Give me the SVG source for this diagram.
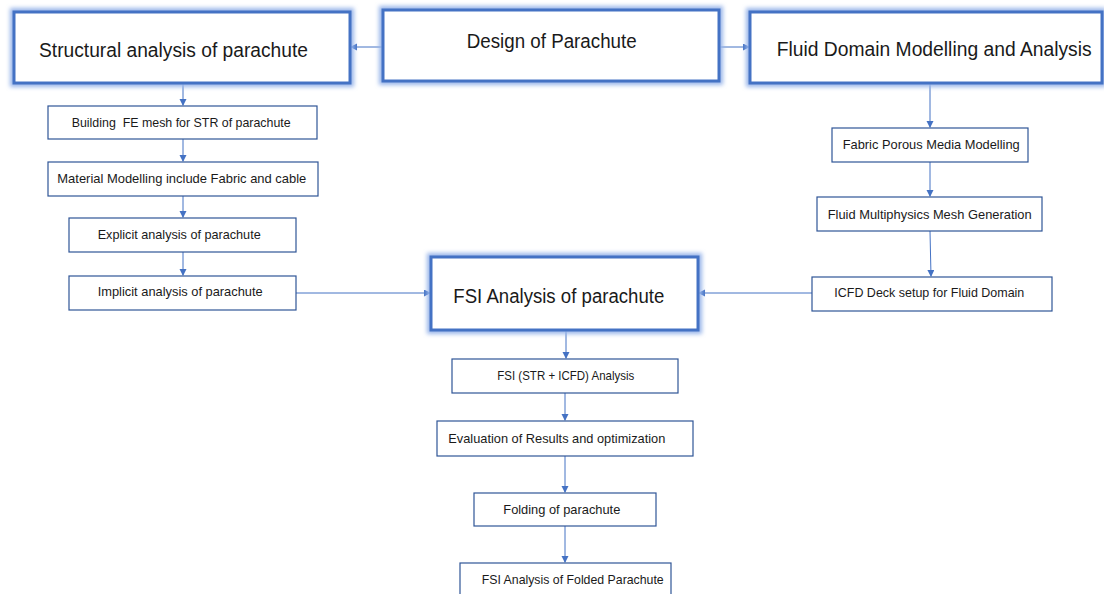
<svg xmlns="http://www.w3.org/2000/svg" width="1104" height="594" viewBox="0 0 1104 594">
<style>
.big rect.b{fill:#fff;stroke:#4472c4;stroke-width:3}
.big rect.g{fill:none;stroke:#9ab6ea;stroke-width:8;filter:url(#blur)}
.sm rect{fill:#fff;stroke:#2f5597;stroke-width:1.2}
text{font-family:"Liberation Sans",Arial,sans-serif;fill:#1a1a1a;white-space:pre}
.bt{font-size:19.5px}
.st{font-size:13px}
.c path{fill:none;stroke:#4472c4;stroke-width:1;marker-end:url(#ah)}
</style>
<defs>
<filter id="blur" x="-10%" y="-30%" width="120%" height="160%"><feGaussianBlur stdDeviation="2"/></filter>
<marker id="ah" markerUnits="userSpaceOnUse" markerWidth="8" markerHeight="8" refX="6" refY="3.5" orient="auto"><path d="M0,0 L7,3.5 L0,7 z" fill="#4472c4"/></marker>
</defs>
<rect width="1104" height="594" fill="#fff"/>
<g class="c">
<path d="M383,47 L351,47"/>
<path d="M719,47 L749,47"/>
<path d="M183,83 L183,105"/>
<path d="M183,139 L183,161"/>
<path d="M183,196 L183,217"/>
<path d="M183,252 L183,275"/>
<path d="M296,293 L430,293"/>
<path d="M930,83 L930,127"/>
<path d="M930,162 L930,196"/>
<path d="M930,231 L931,276"/>
<path d="M812,293 L699,293"/>
<path d="M566,330 L566,358"/>
<path d="M565,393 L565,420"/>
<path d="M565,456 L565,492"/>
<path d="M565,526 L565,562"/>
</g>
<g id="structural" class="big"><rect class="g" x="14" y="12" width="336" height="71"/><rect class="b" x="14" y="12" width="336" height="71"/><text class="bt" x="39" y="57" textLength="269" lengthAdjust="spacingAndGlyphs">Structural analysis of parachute</text></g>
<g id="design" class="big"><rect class="g" x="383" y="10" width="336" height="71"/><rect class="b" x="383" y="10" width="336" height="71"/><text class="bt" x="466.7" y="48" textLength="170" lengthAdjust="spacingAndGlyphs">Design of Parachute</text></g>
<g id="fluid" class="big"><rect class="g" x="750" y="12" width="352" height="71"/><rect class="b" x="750" y="12" width="352" height="71"/><text class="bt" x="776.7" y="56" textLength="315" lengthAdjust="spacingAndGlyphs">Fluid Domain Modelling and Analysis</text></g>
<g id="fsi" class="big"><rect class="g" x="431" y="257" width="267" height="73"/><rect class="b" x="431" y="257" width="267" height="73"/><text class="bt" x="453.3" y="303" textLength="211" lengthAdjust="spacingAndGlyphs">FSI Analysis of parachute</text></g>
<g id="building" class="sm"><rect x="48" y="106" width="269" height="33"/><text class="st" x="71.7" y="127" textLength="219" lengthAdjust="spacingAndGlyphs">Building  FE mesh for STR of parachute</text></g>
<g id="material" class="sm"><rect x="48" y="162" width="270" height="34"/><text class="st" x="57.3" y="183" textLength="249" lengthAdjust="spacingAndGlyphs">Material Modelling include Fabric and cable</text></g>
<g id="explicit" class="sm"><rect x="69" y="218" width="227" height="34"/><text class="st" x="97.7" y="239" textLength="163" lengthAdjust="spacingAndGlyphs">Explicit analysis of parachute</text></g>
<g id="implicit" class="sm"><rect x="69" y="276" width="227" height="34"/><text class="st" x="97.7" y="296" textLength="165" lengthAdjust="spacingAndGlyphs">Implicit analysis of parachute</text></g>
<g id="fabric" class="sm"><rect x="832" y="128" width="196" height="34"/><text class="st" x="842.7" y="148.5" textLength="177" lengthAdjust="spacingAndGlyphs">Fabric Porous Media Modelling</text></g>
<g id="multiphysics" class="sm"><rect x="817" y="197" width="225" height="34"/><text class="st" x="827.7" y="218.5" textLength="204" lengthAdjust="spacingAndGlyphs">Fluid Multiphysics Mesh Generation</text></g>
<g id="icfd" class="sm"><rect x="812" y="277" width="240" height="34"/><text class="st" x="834.3" y="297" textLength="190" lengthAdjust="spacingAndGlyphs">ICFD Deck setup for Fluid Domain</text></g>
<g id="fsi-str" class="sm"><rect x="452" y="359" width="226" height="34"/><text class="st" x="497.3" y="380" textLength="137" lengthAdjust="spacingAndGlyphs">FSI (STR + ICFD) Analysis</text></g>
<g id="evaluation" class="sm"><rect x="437" y="421" width="256" height="35"/><text class="st" x="448.3" y="442.5" textLength="217" lengthAdjust="spacingAndGlyphs">Evaluation of Results and optimization</text></g>
<g id="folding" class="sm"><rect x="474" y="493" width="182" height="33"/><text class="st" x="503.3" y="513.5" textLength="117" lengthAdjust="spacingAndGlyphs">Folding of parachute</text></g>
<g id="folded" class="sm"><rect x="460" y="563" width="211" height="40"/><text class="st" x="481.7" y="583.5" textLength="182" lengthAdjust="spacingAndGlyphs">FSI Analysis of Folded Parachute</text></g>
</svg>
